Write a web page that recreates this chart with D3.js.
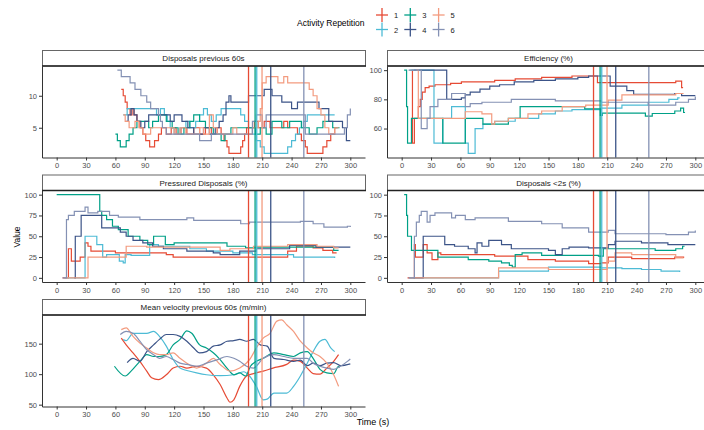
<!DOCTYPE html>
<html>
<head>
<meta charset="utf-8">
<script src="https://cdn.jsdelivr.net/npm/d3@7"></script>
<style>
  body { margin: 0; background: #fff; }
  text { font-family: "Liberation Sans", Arial, sans-serif; }
</style>
</head>
<body>
<script>
// series: activity repetitions 1-6
var repetitions = ["1", "2", "3", "4", "5", "6"];
var colors = ["#E64B35", "#4DBBD5", "#00A087", "#3C5488", "#F39B7F", "#8491B4"];
var xTicks = [0, 30, 60, 90, 120, 150, 180, 210, 240, 270, 300];
// time of the marker line for each repetition (s)
var markerTimes = [196, 204.4, 202.7, 218.7, 209.8, 252.5];

// Disposals previous 60s  [time, value]
var disposals60 = [
  [[66,11],[68,10],[70,9],[72,8],[75,7],[77,8],[79,7],[82,6],[85,5],[88,4],[91,3],[95,2],[100,3],[104,4],[107,5],[112,4],[117,5],[122,4],[127,5],[133,4],[140,5],[146,4],[152,5],[158,4],[164,5],[168,4],[171,3],[174,2],[176,1],[188,2],[190,3],[192,4],[194,5],[202,6],[206,5],[212,6],[218,5],[228,5],[232,6],[236,5],[246,4],[250,3],[254,2],[256,1],[272,2],[276,3],[280,4],[284,5],[287,5]],
  [[68,7],[72,8],[100,8],[102,7],[106,8],[110,7],[113,6],[116,5],[120,4],[126,5],[132,6],[136,5],[142,6],[146,7],[150,8],[154,7],[158,6],[163,7],[168,8],[184,8],[188,7],[192,6],[196,5],[200,4],[204,3],[208,2],[212,1],[232,1],[236,2],[240,3],[244,4],[248,5],[252,6],[256,7],[284,7]],
  [[60,4],[62,3],[65,2],[71,3],[74,4],[78,5],[82,6],[94,5],[98,6],[104,7],[112,6],[118,5],[124,4],[130,5],[136,6],[140,7],[146,6],[152,5],[160,4],[168,3],[172,4],[178,5],[198,5],[203,4],[208,5],[214,4],[220,6],[230,5],[238,6],[250,5],[258,4],[266,5],[272,6],[282,5],[289,5]],
  [[71,6],[73,7],[76,8],[79,7],[82,6],[86,5],[90,6],[94,7],[116,6],[120,7],[128,6],[134,5],[140,4],[150,5],[156,4],[162,5],[166,6],[170,7],[173,9],[176,10],[178,9],[196,10],[212,11],[220,10],[230,9],[240,8],[246,9],[256,9],[268,8],[278,6],[292,5],[296,3],[300,3]],
  [[68,7],[70,6],[74,5],[80,6],[84,5],[88,4],[96,5],[120,4],[126,5],[132,4],[146,5],[150,4],[156,7],[160,5],[164,4],[180,5],[184,4],[200,5],[206,6],[208,8],[210,12],[214,13],[226,12],[232,13],[236,12],[258,11],[262,10],[266,8],[270,7],[274,5],[278,4],[284,5],[288,5]],
  [[62,14],[66,13],[72,13],[75,12],[80,11],[86,10],[92,9],[96,8],[104,7],[106,6],[108,5],[112,4],[146,3],[158,4],[196,4],[200,6],[204,7],[210,5],[214,7],[252,7],[254,4],[292,4],[294,5],[297,7],[300,8]]
];

// Efficiency (%)
var efficiency = [
  [[10,100],[11,50],[13,67],[17,75],[19,80],[21,85],[24,88],[28,89],[34,90],[50,91],[61,92],[95,93],[116,94],[143,95],[174,96],[200,91.5],[280,92.5],[286,88],[287.5,88]],
  [[8,100],[33,50],[42,67],[51,75],[65,50],[68,43],[75,60],[83,63],[95,65],[116,67],[140,70],[157,72],[174,73],[204,74],[225,76],[252,78],[273,80],[282,81],[284,81]],
  [[2.5,100],[5,75],[6,50],[10,67],[42,50],[65,67],[83,63],[109,67],[121,75],[187,73.5],[203,69],[205,70.6],[249,68.5],[256,70.3],[279,72],[285,74],[288,71],[289.5,71]],
  [[12,100],[46,80],[61,81],[65,83],[70,85],[80,87],[90,89],[100,90],[115,92],[135,93],[157,94],[180,95],[191,96],[213,89],[230,86],[237,83.5],[279,84],[286,82.5],[300,82.5]],
  [[15,100],[17,67],[65,71.5],[82,70],[92,63],[95,65],[109,67],[129,70],[143,72],[164,75],[188,76],[211,79.5],[225,83],[280,84],[288,84]],
  [[7,100],[20,60],[26,67],[29,75],[37,80],[51,84],[65,75],[70,77],[82,78],[112,80],[157,79],[204,78],[252,76],[280,78],[293,80],[300,82]]
];

// Pressured Disposals (%)
var pressured = [
  [[6,0],[12,35],[15,20],[24,25],[29,42],[32,38],[35,32],[60,30],[112,28],[119,25],[236,32],[245,38],[262,36],[272,33],[282,30],[286,30]],
  [[8,0],[29,50],[41,40],[47,25],[51,28],[64,20],[68,18],[70,28],[76,27],[95,40],[104,38],[136,35],[153,32],[180,30],[200,28],[242,25],[284,24]],
  [[0,100],[44,80],[46,75],[51,70],[57,62],[63,58],[73,50],[85,45],[93,40],[99,50],[111,40],[120,42],[174,38],[193,36],[204,37],[283,33],[288,33]],
  [[18,0],[19,50],[25,75],[46,60],[65,55],[71,50],[78,45],[88,42],[98,38],[109,35],[133,32],[160,30],[167,28],[187,32],[204,35],[238,39],[265,37],[300,37]],
  [[8,0],[32,25],[71,38],[92,37],[167,33],[177,35],[201,38],[236,40],[266,38],[283,36],[288,36]],
  [[6,0],[10,70],[12,75],[18,80],[29,85],[32,78],[42,80],[54,75],[63,73],[85,70],[133,72],[140,69],[188,65],[197,67],[249,68],[262,65],[273,61],[297,62],[300,61]]
];

// Disposals <2s (%)
var quickDisposals = [
  [[6,0],[13,40],[14,25],[22,40],[26,30],[31,22],[37,30],[40,28],[95,26],[129,22],[157,20],[191,17],[204,18],[211,25],[235,23],[279,25],[288,24]],
  [[8,0],[99,8],[150,13],[204,12],[225,11],[245,10],[265,8],[284,7]],
  [[2.5,100],[5,75],[6,50],[10,33],[37,25],[68,22],[89,20],[102,18],[110,15],[113,13],[116,28],[123,30],[143,27],[201,26],[206,35],[259,33],[280,35],[287,38],[289,38]],
  [[12,0],[22,50],[44,40],[54,38],[68,35],[75,30],[77,42],[82,38],[89,45],[102,40],[112,35],[150,33],[157,28],[164,35],[171,37],[191,36],[211,40],[218,44],[245,42],[272,40],[300,40]],
  [[8,0],[99,12],[150,10],[210,20],[218,30],[235,28],[280,24],[288,24]],
  [[7,0],[13,50],[15,67],[18,75],[20,80],[26,67],[29,75],[34,78],[51,72],[55,75],[65,70],[75,72],[109,68],[143,65],[164,60],[191,55],[211,57],[218,53],[270,52],[293,55],[300,57]]
];

// Mean velocity previous 60s (m/min)
var velocity = [
  [[66,159],[71,148],[78,135],[85,121],[92,105],[97,94],[104,91],[112,99],[119,110],[126,113],[133,110],[143,113],[153,110],[160,99],[167,83],[174,61],[177,54],[181,58],[187,80],[194,97],[201,101],[211,105],[221,110],[235,116],[242,123],[249,121],[256,110],[262,101],[269,100],[276,110],[283,121],[288,132]],
  [[68,157],[71,155],[78,167],[92,167],[99,170],[105,162],[112,146],[119,124],[126,110],[133,106],[143,102],[153,99],[167,97.5],[181,99],[191,104],[197,97],[204,80],[211,58],[215,59],[222,69],[235,69],[242,80],[249,97],[256,118],[262,137],[269,154],[274,157],[280,143],[284,137]],
  [[59,113],[70,97],[76,105],[85,121],[92,132],[99,129],[105,129],[112,132],[119,148],[126,157],[133,171],[138,167],[146,148],[153,143],[160,135],[167,124],[174,110],[181,99],[187,102],[193,97],[198,113],[204,121],[211,126],[222,135],[232,132],[242,129],[249,135],[256,137],[262,126],[269,108],[276,102],[283,101],[288,113],[289,111]],
  [[72,119],[78,126],[85,121],[92,137],[99,148],[105,157],[112,165],[119,165],[126,162],[133,154],[140,143],[146,135],[153,137],[160,146],[167,148],[174,154],[181,155],[187,157],[194,154],[201,157],[208,148],[215,146],[222,126],[232,124],[242,121],[249,123],[256,114],[262,118],[269,114],[276,118],[283,119],[290,114],[300,117]],
  [[66,173],[71,176],[78,162],[85,151],[92,143],[99,135],[105,132],[112,132],[119,135],[126,126],[133,118],[143,110],[153,118],[160,126],[167,116],[177,105],[187,110],[198,126],[204,143],[211,159],[218,167],[225,187],[230,189],[235,181],[242,170],[249,154],[256,143],[262,135],[269,129],[276,118],[283,99],[288,80]],
  [[65,165],[71,170],[78,167],[85,154],[92,140],[99,132],[105,126],[112,129],[119,124],[126,118],[133,116],[143,113],[153,118],[163,123],[174,129],[181,126],[187,121],[194,113],[201,110],[211,126],[222,132],[232,129],[242,126],[256,126],[262,118],[269,113],[276,110],[283,108],[290,113],[297,121],[300,125]]
];

var panels = [
  { title: "Disposals previous 60s", series: disposals60, col: 0, row: 0, yDomain: [0.35, 14.65], yTicks: [5, 10], curve: d3.curveStepAfter },
  { title: "Efficiency (%)", series: efficiency, col: 1, row: 0, yDomain: [40.15, 102.85], yTicks: [60, 80, 100], curve: d3.curveStepAfter },
  { title: "Pressured Disposals (%)", series: pressured, col: 0, row: 1, yDomain: [-5, 105], yTicks: [0, 25, 50, 75, 100], curve: d3.curveStepAfter },
  { title: "Disposals <2s (%)", series: quickDisposals, col: 1, row: 1, yDomain: [-5, 105], yTicks: [0, 25, 50, 75, 100], curve: d3.curveStepAfter },
  { title: "Mean velocity previous 60s (m/min)", series: velocity, col: 0, row: 2, yDomain: [47, 197], yTicks: [50, 100, 150], curve: d3.curveMonotoneX }
];

window.onload = function(){

    var w = 704, h = 430;
    var colX = [42, 387], panelW = 323;
    var rowY = [50, 174.5, 299], stripH = 16, plotH = 91.5;

    var svg = d3.select("body").append("svg")
        .attr("width", w)
        .attr("height", h);

    panels.forEach(function(p){
        var x0 = colX[p.col], top = rowY[p.row] + stripH, bottom = top + plotH;

        var x = d3.scaleLinear().domain([-15, 315]).range([x0, x0 + panelW]);
        var y = d3.scaleLinear().domain(p.yDomain).range([bottom, top]);

        var g = svg.append("g").attr("class", "panel");

        // series lines
        var line = d3.line()
            .curve(p.curve)
            .x(function(d){ return x(d[0]); })
            .y(function(d){ return y(d[1]); });

        g.selectAll(".series")
            .data(p.series)
            .enter()
            .append("path")
            .attr("class", "series")
            .attr("d", line)
            .attr("fill", "none")
            .attr("stroke", function(d, i){ return colors[i]; })
            .attr("stroke-width", 1.2);

        // marker lines
        g.selectAll(".marker")
            .data(markerTimes)
            .enter()
            .append("line")
            .attr("class", "marker")
            .attr("x1", function(d){ return x(d); })
            .attr("x2", function(d){ return x(d); })
            .attr("y1", top)
            .attr("y2", bottom)
            .attr("stroke", function(d, i){ return colors[i]; })
            .attr("stroke-width", 1.3);

        // axes
        var xAxis = g.append("g")
            .attr("transform", "translate(0," + bottom + ")")
            .call(d3.axisBottom(x).tickValues(xTicks).tickSize(3).tickSizeOuter(0).tickPadding(2.5));
        var yAxis = g.append("g")
            .attr("transform", "translate(" + x0 + ",0)")
            .call(d3.axisLeft(y).tickValues(p.yTicks).tickSize(3).tickSizeOuter(0).tickPadding(2));

        [xAxis, yAxis].forEach(function(a){
            a.select(".domain").attr("stroke", "#333").attr("stroke-width", 1);
            a.selectAll(".tick line").attr("stroke", "#333");
            a.selectAll(".tick text")
                .attr("fill", "#4D4D4D")
                .style("font-size", "7.5px")
                .style("font-family", "'Liberation Sans', Arial, sans-serif");
        });

        // strip
        g.append("rect")
            .attr("x", x0 + 0.5)
            .attr("y", rowY[p.row] + 0.5)
            .attr("width", panelW)
            .attr("height", stripH - 0.5)
            .attr("fill", "#fff")
            .attr("stroke", "#666")
            .attr("stroke-width", 1);
        g.append("line")
            .attr("x1", x0).attr("x2", x0 + panelW + 1)
            .attr("y1", top).attr("y2", top)
            .attr("stroke", "#222")
            .attr("stroke-width", 1.6);
        g.append("text")
            .attr("x", x0 + panelW / 2)
            .attr("y", rowY[p.row] + stripH / 2 + 3)
            .attr("text-anchor", "middle")
            .attr("fill", "#1A1A1A")
            .style("font-size", "8px")
            .text(p.title);
    });

    // axis titles
    svg.append("text")
        .attr("x", 373)
        .attr("y", 425)
        .attr("text-anchor", "middle")
        .style("font-size", "9px")
        .text("Time (s)");

    svg.append("text")
        .attr("transform", "translate(20,237) rotate(-90)")
        .attr("text-anchor", "middle")
        .style("font-size", "8.5px")
        .text("Value");

    // legend
    var legend = svg.append("g").attr("class", "legend");
    legend.append("text")
        .attr("x", 297)
        .attr("y", 26)
        .style("font-size", "8.5px")
        .text("Activity Repetition");

    var keys = legend.selectAll(".key")
        .data(repetitions)
        .enter()
        .append("g")
        .attr("class", "key")
        .attr("transform", function(d, i){
            var c = Math.floor(i / 2), r = i % 2;
            return "translate(" + (382 + c * 28.3) + "," + (15 + r * 14.5) + ")";
        });
    keys.append("line")
        .attr("x1", 0).attr("x2", 0).attr("y1", -7).attr("y2", 7)
        .attr("stroke", function(d, i){ return colors[i]; })
        .attr("stroke-width", 1.3);
    keys.append("line")
        .attr("x1", -6).attr("x2", 6).attr("y1", 0).attr("y2", 0)
        .attr("stroke", function(d, i){ return colors[i]; })
        .attr("stroke-width", 1.3);
    keys.append("text")
        .attr("x", 12)
        .attr("y", 3)
        .attr("fill", "#1A1A1A")
        .style("font-size", "7.5px")
        .text(function(d){ return d; });
};
</script>
</body>
</html>
